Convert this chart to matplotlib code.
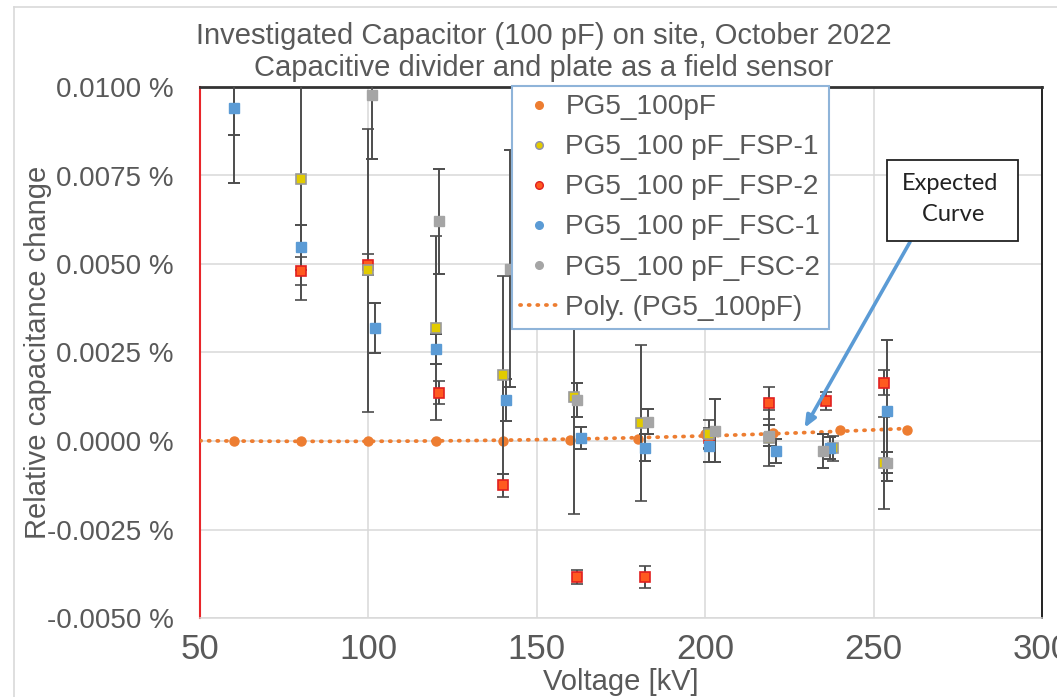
import numpy as np
import matplotlib
matplotlib.use("Agg")
import matplotlib.pyplot as plt
from matplotlib.lines import Line2D
from matplotlib.patches import Rectangle

# PG5_100pF (reference, no error bars)
ref_kv = [60, 80, 100, 120, 140, 160, 180, 200, 220, 240, 260]
ref_val = [0.0, 0.0, 0.0, 0.0, 0.0, 0.00003, 0.00007, 0.00019, 0.00022, 0.00031, 0.00031]

# field sensor plate 1
fsp1_kv = [80, 100, 120, 140, 161, 181, 201, 219, 238, 253]
fsp1_val = [0.00739, 0.00482, 0.00318, 0.00187, 0.00123, 0.00050, 0.00020, 0.00008, -0.00021, -0.00063]
fsp1_err = [0.0034, 0.0040, 0.0026, 0.0028, 0.0033, 0.0022, 0.0004, 0.0008, 0.00035, 0.0013]

# field sensor plate 2
fsp2_kv = [80, 100, 121, 140, 162, 182, 201, 219, 236, 253]
fsp2_val = [0.00481, 0.00498, 0.00137, -0.00125, -0.00384, -0.00384, 0.00008, 0.00107, 0.00113, 0.00165]
fsp2_err = [0.0004, 0.0003, 0.00033, 0.00033, 0.00021, 0.00031, 0.0003, 0.00045, 0.00025, 0.00036]

# capacitive divider 1
fsc1_kv = [60, 80, 102, 120, 141, 163, 182, 201, 221, 237, 254]
fsc1_val = [0.00942, 0.00547, 0.00319, 0.00260, 0.00116, 0.00009, -0.00019, -0.00013, -0.00028, -0.00020, 0.00086]
fsc1_err = [0.00077, 0.00063, 0.00070, 0.00042, 0.00059, 0.00031, 0.00038, 0.00045, 0.00035, 0.0003, 0.0020]

# capacitive divider 2
fsc2_kv = [60, 101, 121, 142, 162, 183, 203, 219, 235, 254]
fsc2_val = [0.0112, 0.00977, 0.00621, 0.00487, 0.00116, 0.00055, 0.00029, 0.00015, -0.00027, -0.00061]
fsc2_err = [0.0039, 0.0018, 0.00148, 0.00334, 0.00047, 0.00035, 0.00089, 0.0003, 0.00048, 0.0003]

yticks = [-0.005, -0.0025, 0.0, 0.0025, 0.005, 0.0075, 0.01]
xticks = [50, 100, 150, 200, 250, 300]

txt = '#595959'
sans = ['Liberation Sans', 'DejaVu Sans']

W, H = 1057, 697
fig = plt.figure(figsize=(W / 100, H / 100), dpi=100)
ax = fig.add_axes([200 / W, 1 - 618 / H, 842 / W, 531 / H])

# chart area border (cropped on right / bottom)
fig.add_artist(Line2D([14 / W, 14 / W], [0, 1 - 7 / H], transform=fig.transFigure, color='#D9D9D9', lw=1.2))
fig.add_artist(Line2D([14 / W, 1], [1 - 7 / H, 1 - 7 / H], transform=fig.transFigure, color='#D9D9D9', lw=1.2))

ax.set_xlim(50, 300)
ax.set_ylim(-0.005, 0.01)
ax.set_xticks(xticks)
ax.set_yticks(yticks)
ax.set_yticklabels([f'{v:.4f} %' for v in yticks], family=sans, fontsize=20, color=txt)
ax.set_xticklabels([str(v) for v in xticks], family=sans, fontsize=25, color=txt)
ax.tick_params(length=0)
ax.tick_params(axis='y', pad=19)
ax.tick_params(axis='x', pad=11)
ax.grid(True, color='#D9D9D9', lw=1.1)
ax.set_axisbelow(True)

ax.spines['left'].set_color('#E8262A')
ax.spines['left'].set_linewidth(1.5)
ax.spines['top'].set_color('#333333')
ax.spines['top'].set_linewidth(2)
ax.spines['right'].set_color('#222222')
ax.spines['right'].set_linewidth(1.4)
ax.spines['bottom'].set_color('#D9D9D9')
ax.spines['bottom'].set_linewidth(1.1)

# trend line (2nd order polynomial through the reference points)
coef = np.polyfit(ref_kv, ref_val, 2)
xs = np.linspace(50, 260, 200)
ax.plot(xs, np.polyval(coef, xs), color='#ED7D31', lw=2.7, ls=(0, (0.3, 2.0)),
        dash_capstyle='round', zorder=3)
ax.plot(ref_kv, ref_val, 'o', color='#ED7D31', ms=6.5, zorder=4)

eb = dict(fmt='s', ms=6.5, ecolor='#4D4D4D', elinewidth=1.4, capsize=4, capthick=1.4, zorder=5)
ax.errorbar(fsp2_kv, fsp2_val, yerr=fsp2_err, mfc='#FF5A1F', mec='#E02020', mew=1.2, **eb)
ax.errorbar(fsp1_kv, fsp1_val, yerr=fsp1_err, mfc='#E2CB00', mec='#9A9A9A', mew=1.2, **eb)
ax.errorbar(fsc1_kv, fsc1_val, yerr=fsc1_err, mfc='#5B9BD5', mec='#5B9BD5', **eb)
ax.errorbar(fsc2_kv, fsc2_val, yerr=fsc2_err, mfc='#A5A5A5', mec='#A5A5A5', **eb)

handles = [
    Line2D([], [], ls='none', marker='o', ms=5.5, mfc='#ED7D31', mec='#ED7D31'),
    Line2D([], [], ls='none', marker='o', ms=5.5, mfc='#E2CB00', mec='#8E8EB0', mew=1),
    Line2D([], [], ls='none', marker='o', ms=5.5, mfc='#FF5A1F', mec='#E02020', mew=1),
    Line2D([], [], ls='none', marker='o', ms=5.5, mfc='#5B9BD5', mec='#5B9BD5'),
    Line2D([], [], ls='none', marker='o', ms=5.5, mfc='#A5A5A5', mec='#A5A5A5'),
    Line2D([], [], color='#ED7D31', lw=2.7, ls=(0, (0.3, 2.0)), dash_capstyle='round'),
]
labels = ['PG5_100pF', 'PG5_100 pF_FSP-1', 'PG5_100 pF_FSP-2',
          'PG5_100 pF_FSC-1', 'PG5_100 pF_FSC-2', 'Poly. (PG5_100pF)']
leg = fig.legend(handles, labels, loc='upper left', bbox_to_anchor=(512 / W, 1 - 86 / H),
                 borderaxespad=0, fancybox=False, framealpha=1, edgecolor='#8FB4D9',
                 prop={'family': sans, 'size': 20.2}, labelcolor=txt,
                 handlelength=1.3, handletextpad=0.3, labelspacing=0.5, borderpad=0.3)
leg.get_frame().set_linewidth(1.5)
leg.set_zorder(10)

fig.text(544 / W, 1 - 36 / H, 'Investigated Capacitor (100 pF) on site, October 2022',
         ha='center', va='center', family=sans, fontsize=21, color=txt)
fig.text(544 / W, 1 - 68 / H, 'Capacitive divider and plate as a field sensor',
         ha='center', va='center', family=sans, fontsize=21, color=txt)
fig.text(621 / W, 1 - 682 / H, 'Voltage [kV]', ha='center', va='center',
         family=sans, fontsize=21, color=txt)
fig.text(38 / W, 1 - 352 / H, 'Relative capacitance change', rotation=90,
         ha='center', va='center', family=sans, fontsize=21, color=txt)

# "Expected Curve" call-out
fig.add_artist(Rectangle((887 / W, 1 - 241 / H), 131 / W, 81 / H, transform=fig.transFigure,
                         fc='white', ec='#222222', lw=1.3, zorder=11))
fig.text(950 / W, 1 - 199 / H, 'Expected\n Curve', ha='center', va='center',
         family=['Lato', 'DejaVu Sans'], fontsize=17, color='#222222', linespacing=1.55, zorder=12)
ax.annotate('', xy=(229.5, 0.00037), xytext=(910 / W, 1 - 242 / H), textcoords='figure fraction',
            arrowprops=dict(arrowstyle='-|>,head_length=0.7,head_width=0.3', color='#5B9BD5',
                            lw=2.6, shrinkA=0, shrinkB=0), zorder=9)

fig.savefig('out.png', dpi=100, facecolor='white')
